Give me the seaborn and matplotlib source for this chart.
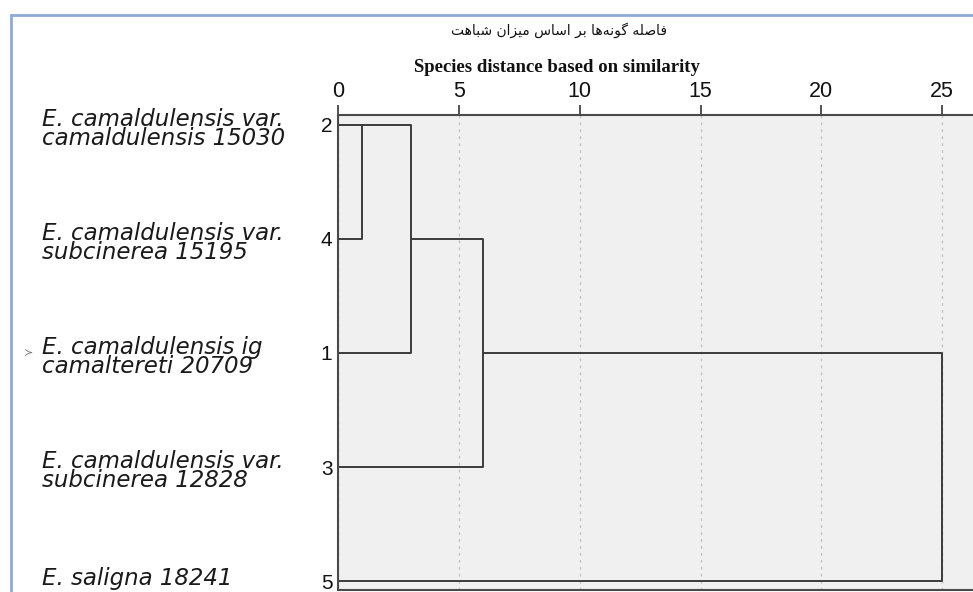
"""
Dendrogram (SPSS style) of Eucalyptus species distances, redrawn with seaborn.
"""

import matplotlib
matplotlib.use("Agg")
import matplotlib.pyplot as plt
import matplotlib.transforms as mtransforms
from matplotlib.lines import Line2D
import pandas as pd
import seaborn as sns

# ---------- Data ----------
case_ids = ["2", "4", "1", "3", "5"]          # leaf order, top to bottom
species = [
    "E. camaldulensis var.\ncamaldulensis 15030",
    "E. camaldulensis var.\nsubcinerea 15195",
    "E. camaldulensis ig\ncamaltereti 20709",
    "E. camaldulensis var.\nsubcinerea 12828",
    "E. saligna 18241",
]
merge_left = ["2", "c1", "c2", "c3"]
merge_right = ["4", "1", "3", "5"]
merge_names = ["c1", "c2", "c3", "c4"]
merge_dist = [1, 3, 6, 25]
x_ticks = [0, 5, 10, 15, 20, 25]
title_en = "Species distance based on similarity"
title_fa = "فاصله گونه‌ها بر اساس میزان شباهت"

# ---------- Persian shaping (matplotlib has no bidi / joining) ----------
FORMS = {
    "ا": ("\uFE8D", "\uFE8E", None, None),
    "ب": ("\uFE8F", "\uFE90", "\uFE91", "\uFE92"),
    "ت": ("\uFE95", "\uFE96", "\uFE97", "\uFE98"),
    "ر": ("\uFEAD", "\uFEAE", None, None),
    "ز": ("\uFEAF", "\uFEB0", None, None),
    "س": ("\uFEB1", "\uFEB2", "\uFEB3", "\uFEB4"),
    "ش": ("\uFEB5", "\uFEB6", "\uFEB7", "\uFEB8"),
    "ص": ("\uFEB9", "\uFEBA", "\uFEBB", "\uFEBC"),
    "ف": ("\uFED1", "\uFED2", "\uFED3", "\uFED4"),
    "ل": ("\uFEDD", "\uFEDE", "\uFEDF", "\uFEE0"),
    "م": ("\uFEE1", "\uFEE2", "\uFEE3", "\uFEE4"),
    "ن": ("\uFEE5", "\uFEE6", "\uFEE7", "\uFEE8"),
    "ه": ("\uFEE9", "\uFEEA", "\uFEEB", "\uFEEC"),
    "و": ("\uFEED", "\uFEEE", None, None),
    "ی": ("\uFBFC", "\uFBFD", "\uFBFE", "\uFBFF"),
    "گ": ("\uFB92", "\uFB93", "\uFB94", "\uFB95"),
}


def shape_rtl(text):
    out = []
    for i, ch in enumerate(text):
        if ch not in FORMS:
            if ch != "\u200c":
                out.append(ch)
            continue
        prev = text[i - 1] if i > 0 else ""
        nxt = text[i + 1] if i + 1 < len(text) else ""
        join_prev = prev in FORMS and FORMS[prev][2] is not None
        join_next = FORMS[ch][2] is not None and nxt in FORMS
        iso, fin, ini, med = FORMS[ch]
        if join_prev and join_next:
            out.append(med)
        elif join_prev:
            out.append(fin)
        elif join_next:
            out.append(ini)
        else:
            out.append(iso)
    return "".join(reversed(out))


# ---------- Build dendrogram segments ----------
nodes = {cid: (0.0, float(i)) for i, cid in enumerate(case_ids)}   # name -> (dist, row)
rows = []
for k, (a, b, name, h) in enumerate(zip(merge_left, merge_right, merge_names, merge_dist)):
    xa, ya = nodes[a]
    xb, yb = nodes[b]
    for j, (x, y) in enumerate([(xa, ya), (h, ya), (h, yb), (xb, yb)]):
        rows.append({"seg": k, "order": j, "dist": x, "row": y})
    nodes[name] = (float(h), float(int((ya + yb) / 2)))
seg_df = pd.DataFrame(rows)

# ---------- Figure ----------
sns.set_theme(style="white")
plt.rcParams["font.family"] = ["Liberation Sans", "DejaVu Sans"]

W, H = 973, 592
fig = plt.figure(figsize=(W / 100, H / 100), dpi=100)
ax_left, ax_top, ax_bottom = 338, 115, 590
ax = fig.add_axes([ax_left / W, 1 - ax_bottom / H, (W - ax_left) / W, (ax_bottom - ax_top) / H])
ax.set_facecolor("#f0f0f0")

px_per_unit = 24.17
row_px = 114
ax.set_xlim(0, (W - ax_left) / px_per_unit)
ax.set_ylim(4 + (ax_bottom - 581) / row_px, -(125 - ax_top) / row_px)

ax.grid(axis="x", linestyle=(0, (2, 3)), color="#c4c4c4", linewidth=1)
ax.set_axisbelow(True)

sns.lineplot(data=seg_df, x="dist", y="row", units="seg", estimator=None,
             sort=False, color="#3c3c3c", linewidth=1.4, ax=ax, legend=False)

ax.xaxis.tick_top()
ax.set_xticks(x_ticks)
ax.set_xticklabels([str(t) for t in x_ticks])
ax.tick_params(axis="x", direction="out", length=7, width=1.3, color="#444444",
               pad=2, labelsize=15.5, labelcolor="#111111")
ax.set_yticks(range(len(case_ids)))
ax.set_yticklabels(case_ids)
ax.tick_params(axis="y", length=0, pad=4, labelsize=15, labelcolor="#111111")
ax.set_xlabel("")
ax.set_ylabel("")

for side in ["top", "left", "bottom"]:
    ax.spines[side].set_color("#4a4a4a")
    ax.spines[side].set_linewidth(1.5)
ax.spines["right"].set_visible(False)

# species names on the left
trans = mtransforms.blended_transform_factory(fig.transFigure, ax.transData)
for i, name in enumerate(species):
    shift = 4 / row_px if "\n" in name else -3 / row_px
    ax.text(42 / W, i + shift, name, transform=trans, ha="left", va="center",
            fontsize=16.5, style="italic", family="DejaVu Sans", linespacing=0.8,
            color="#1a1a1a", clip_on=False)
ax.text(24 / W, 2, "\u227b", transform=trans, ha="left", va="center",
        fontsize=8, color="#777777", clip_on=False)

# titles
fig.text(557 / W, 1 - 68 / H, title_en, ha="center", va="center", fontsize=13.5,
         fontweight="bold", family="Liberation Serif", color="#111111")
fig.text(559 / W, 1 - 30 / H, shape_rtl(title_fa), ha="center", va="center",
         fontsize=10, family="DejaVu Sans", color="#111111")

# outer blue frame
frame = dict(transform=fig.transFigure, color="#8eaad6", linewidth=2)
fig.add_artist(Line2D([11 / W, 1], [1 - 15 / H, 1 - 15 / H], **frame))
fig.add_artist(Line2D([11 / W, 11 / W], [0, 1 - 15 / H], **frame))

fig.savefig("out.png", dpi=100)
plt.close(fig)
